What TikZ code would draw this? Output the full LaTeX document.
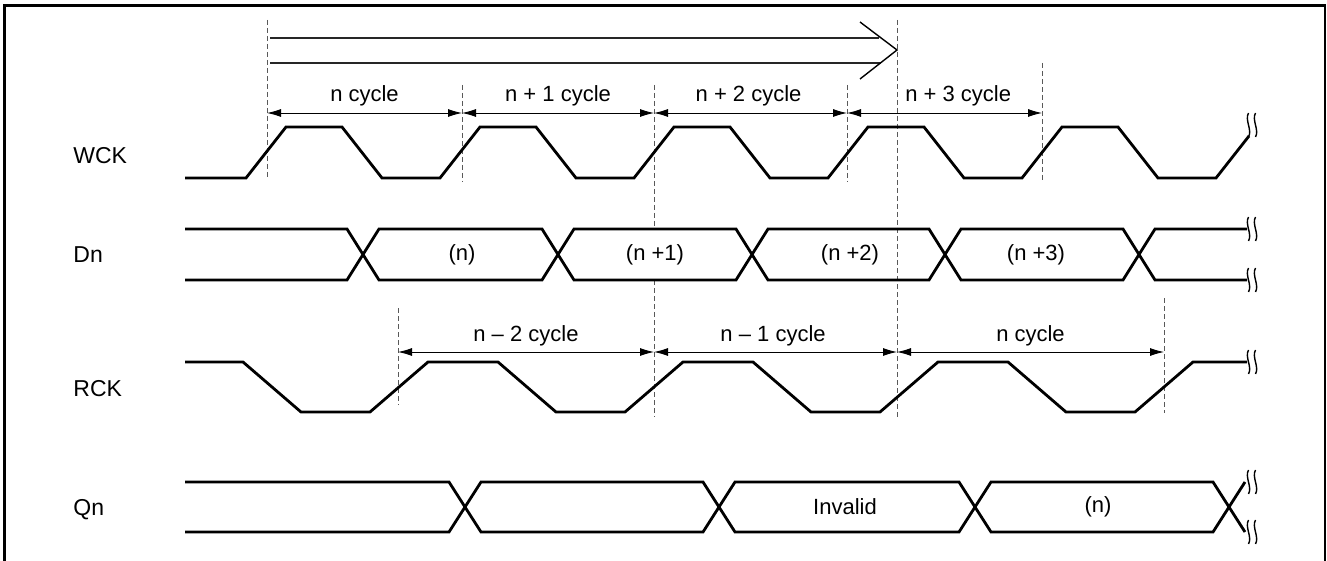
\documentclass[tikz,border=0pt]{standalone}
\usepackage{fontspec}
\setmainfont{Liberation Sans}
\usepackage{tikz}
\usetikzlibrary{arrows.meta}
\usetikzlibrary{positioning}
\tikzstyle{sig} = [line width=1.4pt, line join=miter]
\tikzstyle{guide} = [black!65, line width=0.5pt, dash pattern=on 2.5pt off 1.5pt]
\tikzstyle{dim} = [{Latex[length=7pt,width=4pt]}-{Latex[length=7pt,width=4pt]}, line width=0.45pt]
\tikzstyle{lbl} = [draw=none, inner sep=0, font=\fontsize{11}{13}\selectfont]
\tikzstyle{signame} = [draw=none, inner sep=0, anchor=west, font=\fontsize{11.5}{14}\selectfont]
\tikzset{brk/.pic={
  \draw [line width=0.7pt] (-3.5,-12) .. controls (-7.5,-5) and (0.5,5) .. (-3.5,12);
  \draw [line width=0.7pt] (3.5,-12) .. controls (-0.5,-5) and (7.5,5) .. (3.5,12);
}}

\begin{document}
\begin{tikzpicture}[x=0.5pt, y=-0.5pt]
\useasboundingbox (0,0) rectangle (1327,561);
% frame, open at the bottom
\draw [line width=1.3pt] (4.7,561) -- (4.7,5.5) -- (1325,5.5) -- (1325,561);

% signal names
\node [signame] (wck) at (73,156) {WCK};
\node [signame] (dn) at (73,255) {Dn};
\node [signame] (rck) at (73,389) {RCK};
\node [signame] (qn) at (73,510) {Qn};

% dashed guides
\foreach \x/\ya/\yb [count=\i] in {267/20/180, 462/85/182, 654/85/229, 654/280/417, 847/85/182, 897/20/417, 1042/63/182, 398/308/405, 1164/298/413}
  \draw [guide] (\x,\ya) coordinate (gt\i) -- (\x,\yb) coordinate (gb\i);

% long double arrow
\coordinate (s1) at (270,38); \coordinate (e1) at (879,38);
\coordinate (s2) at (270,63); \coordinate (e2) at (881,63);
\coordinate (wa) at (860,22); \coordinate (tip) at (897,50); \coordinate (wb) at (860,79);
\draw [line width=1pt, black!85] (s1) -- (e1);
\draw [line width=1pt, black!85] (s2) -- (e2);
\draw [line width=0.7pt] (wa) -- (tip) -- (wb);

% cycle arrows
\foreach \n/\x in {w0/267, w1/462, w2/654, w3/847, w4/1042} \coordinate (\n) at (\x,113);
\foreach \n/\x in {r0/398, r1/654, r2/897, r3/1164} \coordinate (\n) at (\x,352);
\foreach \a/\b/\p/\txt in {w0/w1/0.5/{n cycle}, w1/w2/0.5/{n + 1 cycle}, w2/w3/0.49/{n + 2 cycle}, w3/w4/0.57/{n + 3 cycle}, r0/r1/0.5/{n – 2 cycle}, r1/r2/0.49/{n – 1 cycle}, r2/r3/0.5/{n cycle}}
  \draw [dim] (\a) -- (\b) node [lbl, pos=\p, anchor=base, yshift=5.5pt] {\txt};

% WCK
\draw [sig] (185,178) foreach \r in {246,440,634,828,1022} {-- (\r,178) -- (\r+40,127) -- (\r+96,127) -- (\r+136,178)} -- (1216,178) -- (1249,136);

% Dn
\draw [sig] (185,229) foreach \c/\ya/\yb in {363/229/280, 558/280/229, 752/229/280, 945/280/229, 1139/229/280} {-- (\c-16,\ya) -- (\c+16,\yb)} -- (1247,280);
\draw [sig] (185,280) foreach \c/\ya/\yb in {363/280/229, 558/229/280, 752/280/229, 945/229/280, 1139/280/229} {-- (\c-16,\ya) -- (\c+16,\yb)} -- (1247,229);
\node [lbl] (d0) at (462,255) {(n)};
\node [lbl] (d1) at (655,255) {(n +1)};
\node [lbl] (d2) at (850,255) {(n +2)};
\node [lbl] (d3) at (1036,255) {(n +3)};

% RCK
\draw [sig] (185,362) -- (243,362) -- (301,412) foreach \r in {370,625,880} {-- (\r,412) -- (\r+58,362) -- (\r+128,362) -- (\r+186,412)} -- (1135,412) -- (1193,362) -- (1247,362);

% Qn
\draw [sig] (185,482) foreach \c/\ya/\yb in {465/482/532, 719/532/482, 975/482/532, 1229/532/482} {-- (\c-16,\ya) -- (\c+16,\yb)};
\draw [sig] (185,532) foreach \c/\ya/\yb in {465/532/482, 719/482/532, 975/532/482, 1229/482/532} {-- (\c-16,\ya) -- (\c+16,\yb)};
\node [lbl] (q0) at (845,507) {Invalid};
\node [lbl] (q1) at (1098,507) {(n)};

% break marks
\foreach \y in {125,229,280,362,482,532} \pic at (1252,\y) {brk};
\end{tikzpicture}
\end{document}
